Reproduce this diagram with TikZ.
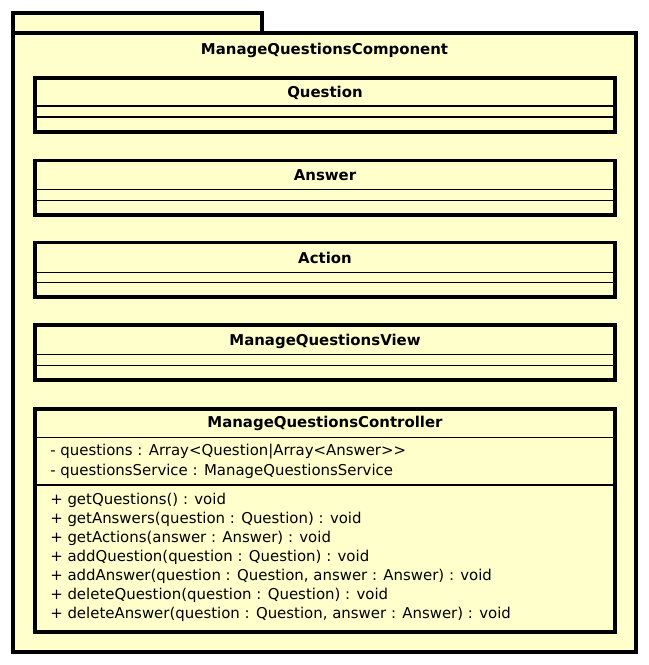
\documentclass[tikz,border=0pt]{standalone}
\usepackage{fontspec}
\setmainfont{DejaVu Sans}
\usepackage{tikz}
\definecolor{umlfill}{RGB}{255,255,204}

\begin{document}
\begin{tikzpicture}[x=0.75pt,y=0.75pt,yscale=-1,xscale=1,
        pkgbox/.style={draw, line width=2.4pt, fill=umlfill},
        clsbox/.style={draw, line width=2.4pt, fill=umlfill},
        sepline/.style={line width=0.8pt},
        clsname/.style={inner sep=0pt, font=\bfseries\fontsize{11.2}{13}\selectfont},
        member/.style={anchor=west, inner sep=0pt, font=\fontsize{11.2}{13}\selectfont}]
        \useasboundingbox (0,0) rectangle (649,665);

        %Shape: Package tab
        \draw [pkgbox] (13,13) rectangle (262,33) ;
        %Shape: Package body
        \draw [pkgbox] (13,33) rectangle (636,652) ;
        % Text Node
        \node [clsname] (pkgtitle) at (324.5,50) {ManageQuestionsComponent};

        %Shape: Class Question
        \draw [clsbox] (35,78) rectangle (615,132) ;
        \draw [sepline] (35,106) -- (615,106) ;
        \draw [sepline] (35,117) -- (615,117) ;
        \node [clsname] (question) at (325,93) {Question};

        %Shape: Class Answer
        \draw [clsbox] (35,160.5) rectangle (615,215) ;
        \draw [sepline] (35,189.3) -- (615,189.3) ;
        \draw [sepline] (35,200.3) -- (615,200.3) ;
        \node [clsname] (answer) at (325,175) {Answer};

        %Shape: Class Action
        \draw [clsbox] (35,242.5) rectangle (615,297) ;
        \draw [sepline] (35,272.3) -- (615,272.3) ;
        \draw [sepline] (35,282.3) -- (615,282.3) ;
        \node [clsname] (action) at (325,258) {Action};

        %Shape: Class ManageQuestionsView
        \draw [clsbox] (35,325) rectangle (615,380) ;
        \draw [sepline] (35,354.5) -- (615,354.5) ;
        \draw [sepline] (35,365.3) -- (615,365.3) ;
        \node [clsname] (view) at (325,341) {ManageQuestionsView};

        %Shape: Class ManageQuestionsController
        \draw [clsbox] (35,409) rectangle (615,632) ;
        \draw [sepline] (35,437.3) -- (615,437.3) ;
        \draw [sepline] (35,485) -- (615,485) ;
        \node [clsname] (controller) at (325,423) {ManageQuestionsController};

        % Text Node
        \node [member] (attrquestions) at (50,452) {- questions : Array<Question|Array<Answer>{}>};
        % Text Node
        \node [member] (attrservice) at (50,471) {- questionsService : ManageQuestionsService};

        % Text Node
        \node [member] (getquestions) at (50,500) {+ getQuestions() : void};
        % Text Node
        \node [member] (getanswers) at (50,519.5) {+ getAnswers(question : Question) : void};
        % Text Node
        \node [member] (getactions) at (50,538.5) {+ getActions(answer : Answer) : void};
        % Text Node
        \node [member] (addquestion) at (50,557.5) {+ addQuestion(question : Question) : void};
        % Text Node
        \node [member] (addanswer) at (50,576.5) {+ addAnswer(question : Question, answer : Answer) : void};
        % Text Node
        \node [member] (deletequestion) at (50,595.5) {+ deleteQuestion(question : Question) : void};
        % Text Node
        \node [member] (deleteanswer) at (50,614.5) {+ deleteAnswer(question : Question, answer : Answer) : void};

    \end{tikzpicture}
\end{document}
